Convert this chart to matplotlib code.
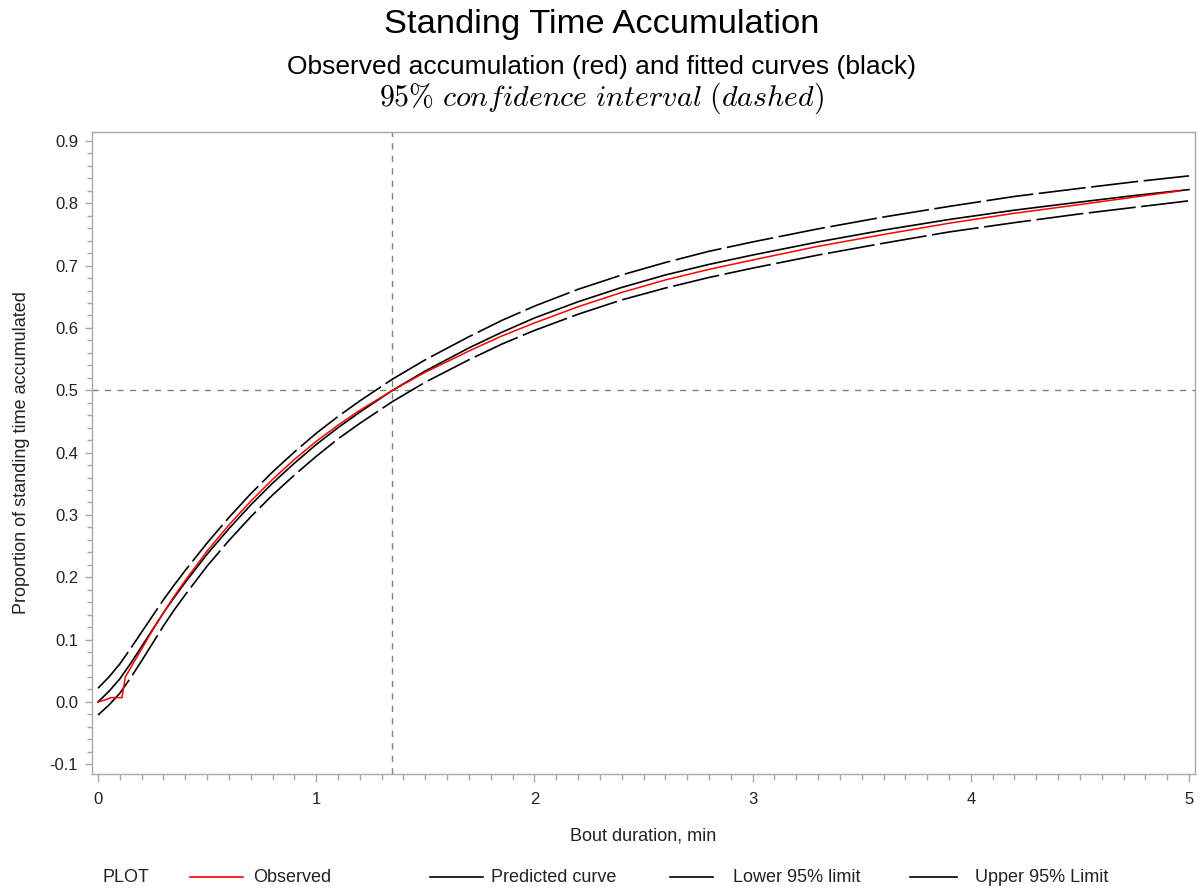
import matplotlib
matplotlib.use("Agg")
import matplotlib.pyplot as plt
from matplotlib.lines import Line2D
from matplotlib.ticker import MultipleLocator, FormatStrFormatter

plt.rcParams['font.family'] = ['Liberation Sans', 'DejaVu Sans']
plt.rcParams['mathtext.fontset'] = 'cm'
plt.rcParams['lines.scale_dashes'] = False

# ---- data ----
x_fit = [0.0, 0.05, 0.1, 0.15, 0.2, 0.25, 0.3, 0.35, 0.4, 0.5, 0.6, 0.7, 0.8, 0.9,
         1.0, 1.1, 1.2, 1.35, 1.5, 1.7, 1.85, 2.0, 2.2, 2.4, 2.6, 2.8, 3.0, 3.3,
         3.6, 3.9, 4.2, 4.5, 4.75, 5.0]
predicted = [0.000, 0.017, 0.037, 0.062, 0.089, 0.116, 0.143, 0.168, 0.192, 0.237,
             0.278, 0.316, 0.351, 0.383, 0.413, 0.440, 0.465, 0.500, 0.531, 0.568,
             0.593, 0.616, 0.642, 0.665, 0.685, 0.702, 0.717, 0.738, 0.757, 0.774,
             0.789, 0.802, 0.8125, 0.822]
upper = [0.022, 0.040, 0.061, 0.086, 0.112, 0.138, 0.164, 0.188, 0.211, 0.255,
         0.296, 0.334, 0.369, 0.401, 0.431, 0.458, 0.483, 0.518, 0.549, 0.586,
         0.612, 0.635, 0.662, 0.685, 0.705, 0.723, 0.738, 0.759, 0.778, 0.795,
         0.811, 0.824, 0.8345, 0.844]
lower = [-0.021, -0.005, 0.014, 0.039, 0.066, 0.094, 0.122, 0.148, 0.172, 0.218,
         0.259, 0.297, 0.332, 0.364, 0.394, 0.422, 0.447, 0.482, 0.513, 0.549,
         0.574, 0.596, 0.622, 0.645, 0.664, 0.681, 0.696, 0.717, 0.736, 0.754,
         0.769, 0.783, 0.7935, 0.804]

x_obs = [0.0, 0.03, 0.06, 0.11, 0.125, 0.15, 0.2, 0.25, 0.3, 0.35, 0.4, 0.5, 0.6,
         0.7, 0.8, 0.9, 1.0, 1.1, 1.2, 1.35, 1.5, 1.7, 1.85, 2.0, 2.2, 2.4, 2.6,
         2.8, 3.0, 3.3, 3.6, 3.9, 4.2, 4.5, 4.75, 4.96]
observed = [0.000, 0.003, 0.007, 0.007, 0.040, 0.055, 0.085, 0.115, 0.143, 0.170,
            0.195, 0.242, 0.284, 0.322, 0.357, 0.389, 0.418, 0.444, 0.468, 0.500,
            0.529, 0.563, 0.587, 0.608, 0.634, 0.657, 0.677, 0.694, 0.709, 0.731,
            0.750, 0.768, 0.784, 0.798, 0.810, 0.820]

median_x = 1.346
half_level = 0.5

x_ticks = [0, 1, 2, 3, 4, 5]
y_ticks = [-0.1, 0.0, 0.1, 0.2, 0.3, 0.4, 0.5, 0.6, 0.7, 0.8, 0.9]

legend_labels = ["Observed", "Predicted curve", "Lower 95% limit", "Upper 95% Limit"]
legend_colors = ["red", "black", "black", "black"]

# ---- figure ----
W, H = 1203, 893
fig = plt.figure(figsize=(W / 100, H / 100), dpi=100)
ax = fig.add_axes([92 / W, 1 - 774 / H, (1195 - 92) / W, (774 - 132) / H])

gray = '#a8a8a8'
ax.axvline(median_x, color='#808080', lw=1.0, ls=(0, (4.5, 4.5)), zorder=1)
ax.axhline(half_level, color='#808080', lw=1.0, ls=(0, (4.5, 4.5)), zorder=1)

dash = (0, (34, 4))
ax.plot(x_fit, upper, color='black', lw=1.2, ls=dash, zorder=3)
ax.plot(x_fit, lower, color='black', lw=1.2, ls=dash, zorder=3)
ax.plot(x_fit, predicted, color='black', lw=1.2, zorder=3)
ax.plot(x_obs, observed, color='red', lw=1.1, zorder=4)

ax.set_xlim(-0.0275, 5.0275)
ax.set_ylim(-0.1156, 0.9144)

ax.set_xticks(x_ticks)
ax.set_yticks(y_ticks)
ax.xaxis.set_minor_locator(MultipleLocator(0.1))
ax.yaxis.set_minor_locator(MultipleLocator(0.02))
ax.yaxis.set_major_formatter(FormatStrFormatter('%.1f'))

for s in ax.spines.values():
    s.set_color(gray)
    s.set_linewidth(1.0)

ax.tick_params(axis='both', which='both', color=gray, width=1.0, direction='out',
               labelcolor='#222222', labelsize=12)
ax.tick_params(axis='x', which='major', length=6, pad=7)
ax.tick_params(axis='x', which='minor', length=4)
ax.tick_params(axis='y', which='major', length=5, pad=5)
ax.tick_params(axis='y', which='minor', length=3.5)

ax.set_xlabel("Bout duration, min", fontsize=13, color='#222222', labelpad=15)
ax.set_ylabel("Proportion of standing time accumulated", fontsize=13,
              color='#222222', labelpad=14)

# titles
fig.text(0.5, 1 - 25 / H, "Standing Time Accumulation", ha='center', va='center',
         fontsize=24.8, color='black')
fig.text(0.5, 1 - 67 / H, "Observed accumulation (red) and fitted curves (black)",
         ha='center', va='center', fontsize=19, color='black')
fig.text(0.5, 1 - 98 / H, r"$\mathit{95\%\ confidence\ interval\ (dashed)}$",
         ha='center', va='center', fontsize=21.5, color='black')

# legend row
ly = 1 - 877 / H
fig.text(103 / W, ly, "PLOT", ha='left', va='center', fontsize=13, color='#222222')
seg_x = [(190, 243), (430, 483), (670, 713), (910, 957)]
txt_x = [253, 491, 733, 975]
for (a, b), tx, lab, col in zip(seg_x, txt_x, legend_labels, legend_colors):
    fig.add_artist(Line2D([a / W, b / W], [ly, ly], color=col, lw=1.2,
                          transform=fig.transFigure))
    fig.text(tx / W, ly, lab, ha='left', va='center', fontsize=13, color='#222222')

fig.savefig("out.png", dpi=100)
